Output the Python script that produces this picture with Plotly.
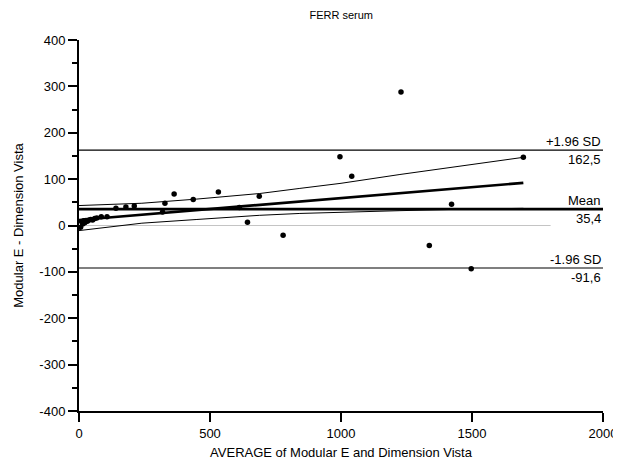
import plotly.graph_objects as go

# Data
avg_values = [6, 10, 14, 18, 22, 27, 32, 38, 45, 52, 60, 68, 85, 107,
              141, 179, 211, 319, 328, 363, 436, 532, 612, 643, 688, 779,
              996, 1041, 1229, 1337, 1422, 1497, 1696]
diff_values = [-4, 8, 3, 10, 6, 11, 9, 12, 13, 12, 15, 16, 19, 19,
               37, 40, 42, 29, 48, 68, 56, 72, 39, 7, 63, -21,
               148, 106, 288, -43, 46, -93, 147]

mean_diff = 35.4
upper_loa = 162.5
lower_loa = -91.6

reg_x = [0, 1696]
reg_y = [12, 92]

band_x = [0, 240, 450, 690, 843, 1000, 1225, 1450, 1696]
band_upper = [43, 48, 57, 69, 80, 91, 110, 128, 147]
band_lower = [-11, 5, 13, 22, 26, 29, 32, 35, 37]

x_range = [0, 2000]
zero_line_x = [0, 1800]

x_ticks = [0, 500, 1000, 1500, 2000]
x_tick_labels = ["0", "500", "1000", "1500", "2000"]
y_ticks = [-400, -300, -200, -100, 0, 100, 200, 300, 400]
y_tick_labels = ["-400", "-300", "-200", "-100", "0", "100", "200", "300", "400"]

FONT = "Liberation Sans, Arial, sans-serif"

# the page adds an 8px body margin, so the figure is 8px smaller on each side
FIG_W, FIG_H = 613, 453

fig = go.Figure()

# zero reference line (grey)
fig.add_trace(go.Scatter(x=zero_line_x, y=[0, 0], mode="lines",
                         line=dict(color="#c4c4c4", width=1), hoverinfo="skip"))
# limits of agreement
fig.add_trace(go.Scatter(x=x_range, y=[upper_loa, upper_loa], mode="lines",
                         line=dict(color="black", width=1.2), hoverinfo="skip"))
fig.add_trace(go.Scatter(x=x_range, y=[lower_loa, lower_loa], mode="lines",
                         line=dict(color="black", width=1.2), hoverinfo="skip"))
# mean
fig.add_trace(go.Scatter(x=x_range, y=[mean_diff, mean_diff], mode="lines",
                         line=dict(color="black", width=2.6), hoverinfo="skip"))
# regression and confidence bands
fig.add_trace(go.Scatter(x=band_x, y=band_upper, mode="lines",
                         line=dict(color="black", width=1), hoverinfo="skip"))
fig.add_trace(go.Scatter(x=band_x, y=band_lower, mode="lines",
                         line=dict(color="black", width=1), hoverinfo="skip"))
fig.add_trace(go.Scatter(x=reg_x, y=reg_y, mode="lines",
                         line=dict(color="black", width=2.6), hoverinfo="skip"))
# points
fig.add_trace(go.Scatter(x=avg_values, y=diff_values, mode="markers",
                         marker=dict(color="black", size=5.5)))

label_font = dict(family=FONT, size=13, color="black")
labels = [
    (upper_loa, "+1.96 SD", "162,5"),
    (mean_diff, "Mean", "35,4"),
    (lower_loa, "-1.96 SD", "-91,6"),
]
for yv, above, below in labels:
    fig.add_annotation(x=x_range[1], y=yv, xref="x", yref="y", text=above,
                       showarrow=False, xanchor="right", yanchor="bottom",
                       font=label_font, yshift=-1)
    fig.add_annotation(x=x_range[1], y=yv, xref="x", yref="y", text=below,
                       showarrow=False, xanchor="right", yanchor="top",
                       font=label_font, yshift=0)

fig.update_layout(
    width=FIG_W, height=FIG_H,
    margin=dict(l=71, r=18, t=32, b=50, autoexpand=False),
    paper_bgcolor="white", plot_bgcolor="white",
    showlegend=False,
    font=dict(family=FONT, size=13, color="black"),
    title=dict(text="FERR serum", x=0.5436, xanchor="center",
               y=1 - 7 / FIG_H, yanchor="middle",
               font=dict(family=FONT, size=11, color="black")),
)
fig.update_xaxes(
    range=x_range, tickvals=x_ticks, ticktext=x_tick_labels,
    showgrid=False, zeroline=False, automargin=False,
    showline=True, linecolor="black", linewidth=2,
    ticks="outside", ticklen=9, tickwidth=2, tickcolor="black",
    ticklabelstandoff=0,
    tickfont=dict(family=FONT, size=13, color="black"),
    title=dict(text="AVERAGE of Modular E and Dimension Vista",
               font=dict(family=FONT, size=13, color="black"), standoff=8),
)
fig.update_yaxes(
    range=[-400, 400], tickvals=y_ticks, ticktext=y_tick_labels,
    showgrid=False, zeroline=False, automargin=False,
    showline=True, linecolor="black", linewidth=2,
    ticks="outside", ticklen=9, tickwidth=2, tickcolor="black",
    minor=dict(dtick=50, ticks="outside", ticklen=5, tickwidth=1.5, tickcolor="black", showgrid=False),
    tickfont=dict(family=FONT, size=13, color="black"),
    title=dict(text="Modular E - Dimension Vista",
               font=dict(family=FONT, size=13, color="black"), standoff=13),
)

fig.write_html("out.html")
